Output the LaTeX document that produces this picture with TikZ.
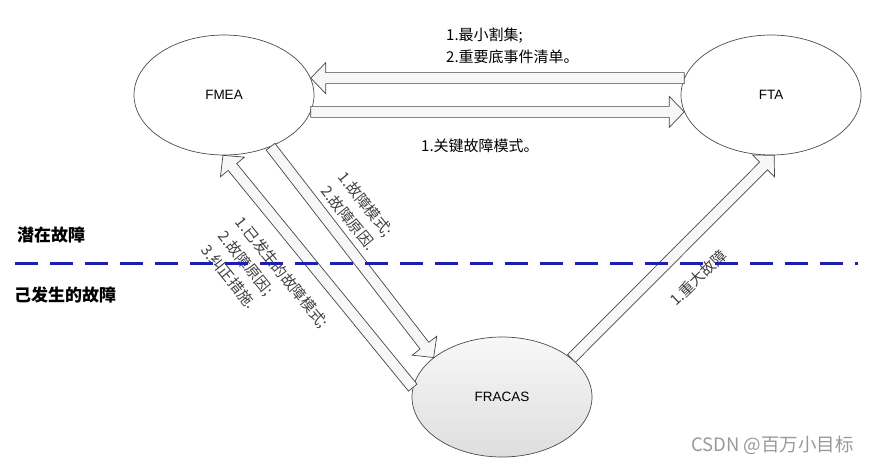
\documentclass[tikz,border=0pt]{standalone}
\usepackage{fontspec}
\setmainfont{Liberation Sans}
\newfontfamily\cjk{Noto Sans CJK SC}
\usepackage{tikz}
\usetikzlibrary{shapes.geometric}
\usetikzlibrary{calc}
\definecolor{dashblue}{RGB}{30,30,175}
\definecolor{arrline}{RGB}{70,70,70}
\tikzstyle{blob}=[ellipse, draw=black!70, line width=.7pt, minimum width=180pt, minimum height=120pt, inner sep=0pt, font=\fontsize{13.5}{15}\selectfont]
\tikzstyle{fat}=[draw=arrline, line width=.7pt, fill=black!3]
\tikzstyle{lbl}=[font=\cjk\fontsize{15}{22}\selectfont, align=left, inner sep=0pt, anchor=west]
\tikzstyle{side}=[font=\cjk\bfseries\fontsize{17}{18}\selectfont, inner sep=0pt, anchor=west]
\newcommand{\fatarrow}[2]{%
	\coordinate (tl) at (#1);
	\coordinate (tp) at (#2);
	\coordinate (hb) at ($(tp)!15pt!(tl)$);
	\draw[fat] ($(tl)!5.5pt!90:(tp)$) -- ($(hb)!5.5pt!90:(tp)$) -- ($(hb)!15.5pt!90:(tp)$) -- (tp)
		-- ($(hb)!15.5pt!-90:(tp)$) -- ($(hb)!5.5pt!-90:(tp)$) -- ($(tl)!5.5pt!-90:(tp)$) -- cycle;
}

\begin{document}
\begin{tikzpicture}[x=1pt, y=-1pt]
				\useasboundingbox (0,0) rectangle (878,464);
				\node[blob] (fmea) at (224,95) {FMEA};
				\node[blob] (fta) at (771,95) {FTA};
				\node[blob, top color=black!3, bottom color=black!13] (fracas) at (502,397) {FRACAS};

				\fatarrow{fta.169}{fmea.11}
				\fatarrow{fmea.-11}{fta.191}
				\fatarrow{fmea.-48}{fracas.150}
				\fatarrow{fracas.174}{fmea.-91}
				\fatarrow{fracas.29}{fta.-87}

				\node[lbl] (cutset) at (446,46) {1.最小割集;\\2.重要底事件清单。};
				\node[lbl] (keymode) at (421,146) {1.关键故障模式。};
				\node[lbl, text=black!75, rotate=-51] (cause) at (333,181) {1.故障模式;\\2.故障原因.};
				\node[lbl, text=black!75, rotate=-51] (done) at (222,233) {1.已发生的故障模式;\\2.故障原因;\\3.纠正措施.};
				\node[lbl, text=black!75, rotate=44] (major) at (672,303) {1.重大故障};

				\node[side] (latent) at (17,235) {潜在故障};
				\node[side] (occurred) at (14,295) {己发生的故障};

				% boundary between latent and occurred faults
				\draw[dashblue, line width=3pt, dash pattern=on 23pt off 12pt] (15,263) -- (858,263);

				\node[font=\cjk\fontsize{18.5}{20}\selectfont, text=black!40, inner sep=0pt, anchor=west] (mark) at (691,445) {CSDN @百万小目标};
			\end{tikzpicture}
\end{document}
